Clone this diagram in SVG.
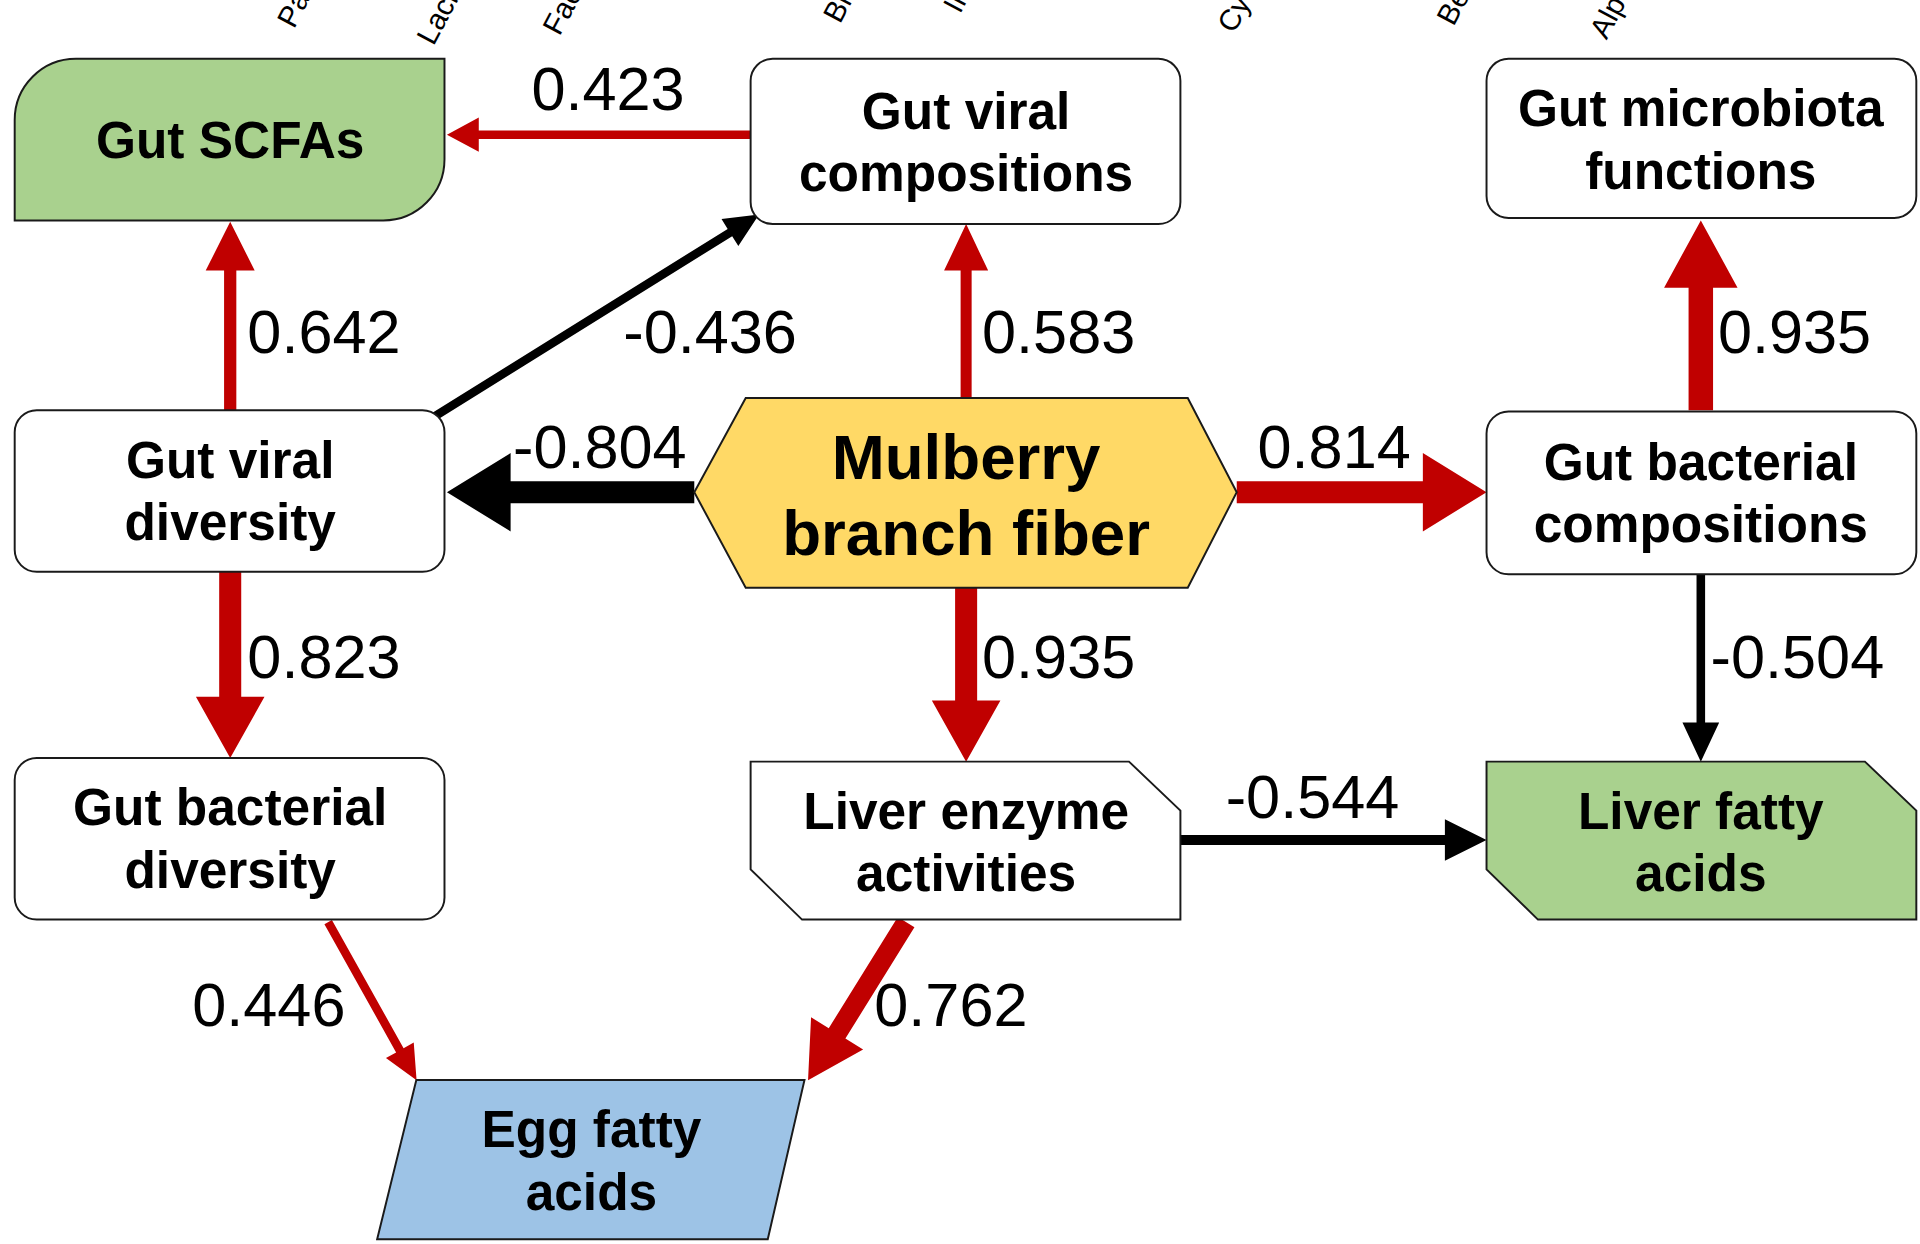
<svg xmlns="http://www.w3.org/2000/svg" width="1920" height="1244" viewBox="0 0 1920 1244">
<style>
.n{stroke:#1a1a1a;stroke-width:1.6}
.t{font-family:"Liberation Sans",Arial,sans-serif;font-weight:bold;font-size:42px;text-anchor:middle;fill:#000}
.l{font-family:"Liberation Sans",Arial,sans-serif;font-size:50px;fill:#000}
.s{font-family:"Liberation Sans",Arial,sans-serif;font-size:24px;fill:#000}
.r{fill:#c00000}.k{fill:#000}
</style>
<rect width="1920" height="1244" fill="#fff"/>
<g transform="scale(1.22449)">
<g id="toplabels">
<text class="s" transform="translate(240,24) rotate(-62)">Pa</text>
<text class="s" transform="translate(354,38) rotate(-62)">Lach</text>
<text class="s" transform="translate(457,30) rotate(-62)">Fae</text>
<text class="s" transform="translate(686,20) rotate(-62)">Bi</text>
<text class="s" transform="translate(784,12) rotate(-62)">In</text>
<text class="s" transform="translate(1008,28) rotate(-62)">Cy</text>
<text class="s" transform="translate(1187,22) rotate(-62)">Be</text>
<text class="s" transform="translate(1312,33) rotate(-62)">Alp</text>
</g>
<g id="connectors">
<path class="r" transform="translate(613,110) rotate(180)" d="M0,-3.5L222,-3.5L222,-14L248,0L222,14L222,3.5L0,3.5Z"/>
<path class="r" transform="translate(188,335) rotate(-90)" d="M0,-5L114,-5L114,-20L154,0L114,20L114,5L0,5Z"/>
<path class="k" transform="translate(355,340) rotate(-31.9)" d="M0,-3.5L284,-3.5L284,-13L312,0L284,13L284,3.5L0,3.5Z"/>
<path class="r" transform="translate(789,325) rotate(-90)" d="M0,-4.5L104,-4.5L104,-18L142,0L104,18L104,4.5L0,4.5Z"/>
<path class="r" transform="translate(1389,335) rotate(-90)" d="M0,-10L100,-10L100,-30L155,0L100,30L100,10L0,10Z"/>
<path class="k" transform="translate(567,402) rotate(180)" d="M0,-9L150,-9L150,-32L202,0L150,32L150,9L0,9Z"/>
<path class="r" transform="translate(1010,402)" d="M0,-9L152,-9L152,-32L204,0L152,32L152,9L0,9Z"/>
<path class="r" transform="translate(188,467) rotate(90)" d="M0,-9L102,-9L102,-28L152,0L102,28L102,9L0,9Z"/>
<path class="r" transform="translate(789,480) rotate(90)" d="M0,-9L92,-9L92,-28L142,0L92,28L92,9L0,9Z"/>
<path class="k" transform="translate(1389,469) rotate(90)" d="M0,-3.5L121,-3.5L121,-15L153,0L121,15L121,3.5L0,3.5Z"/>
<path class="k" transform="translate(964,686)" d="M0,-4L216,-4L216,-17L250,0L216,17L216,4L0,4Z"/>
<path class="r" transform="translate(268,753) rotate(60.8)" d="M0,-3.5L120,-3.5L120,-13L148,0L120,13L120,3.5L0,3.5Z"/>
<path class="r" transform="translate(740,753) rotate(121.8)" d="M0,-8L107,-8L107,-25L152,0L107,25L107,8L0,8Z"/>
<text class="l" x="434" y="90">0.423</text>
<text class="l" x="202" y="288">0.642</text>
<text class="l" x="509" y="288">-0.436</text>
<text class="l" x="802" y="288">0.583</text>
<text class="l" x="1403" y="288">0.935</text>
<text class="l" x="419" y="382">-0.804</text>
<text class="l" x="1027" y="382">0.814</text>
<text class="l" x="202" y="554">0.823</text>
<text class="l" x="802" y="554">0.935</text>
<text class="l" x="1397" y="554">-0.504</text>
<text class="l" x="1001" y="668">-0.544</text>
<text class="l" x="157" y="838">0.446</text>
<text class="l" x="714" y="838">0.762</text>
</g>
<g id="gut-scfas"><path class="n" fill="#a9d18e" d="M62,48L363,48L363,130A50,50 0 0 1 313,180L12,180L12,98A50,50 0 0 1 62,48Z"/><text class="t" x="188" y="129">Gut SCFAs</text></g>
<g id="gut-viral-compositions"><rect class="n" fill="#fff" x="613" y="48" width="351" height="135" rx="18"/><text class="t" x="789" y="105">Gut viral</text><text class="t" x="789" y="156">compositions</text></g>
<g id="gut-microbiota-functions"><rect class="n" fill="#fff" x="1214" y="48" width="351" height="130" rx="18"/><text class="t" x="1389" y="103">Gut microbiota</text><text class="t" x="1389" y="154">functions</text></g>
<g id="gut-viral-diversity"><rect class="n" fill="#fff" x="12" y="335" width="351" height="132" rx="18"/><text class="t" x="188" y="390">Gut viral</text><text class="t" x="188" y="441">diversity</text></g>
<g id="mulberry"><polygon class="n" fill="#ffd966" points="567,402 609,325 970,325 1010,402 970,480 609,480"/><text class="t" style="font-size:52px" x="789" y="391">Mulberry</text><text class="t" style="font-size:52px" x="789" y="453">branch fiber</text></g>
<g id="gut-bacterial-compositions"><rect class="n" fill="#fff" x="1214" y="336" width="351" height="133" rx="18"/><text class="t" x="1389" y="392">Gut bacterial</text><text class="t" x="1389" y="443">compositions</text></g>
<g id="gut-bacterial-diversity"><rect class="n" fill="#fff" x="12" y="619" width="351" height="132" rx="18"/><text class="t" x="188" y="674">Gut bacterial</text><text class="t" x="188" y="725">diversity</text></g>
<g id="liver-enzyme"><polygon class="n" fill="#fff" points="613,622 922,622 964,662 964,751 655,751 613,710"/><text class="t" x="789" y="677">Liver enzyme</text><text class="t" x="789" y="728">activities</text></g>
<g id="liver-fatty-acids"><polygon class="n" fill="#a9d18e" points="1214,622 1523,622 1565,662 1565,751 1256,751 1214,710"/><text class="t" x="1389" y="677">Liver fatty</text><text class="t" x="1389" y="728">acids</text></g>
<g id="egg-fatty-acids"><polygon class="n" fill="#9dc3e6" points="340,882 657,882 627,1012 308,1012"/><text class="t" x="483" y="937">Egg fatty</text><text class="t" x="483" y="988">acids</text></g>
</g>
</svg>
